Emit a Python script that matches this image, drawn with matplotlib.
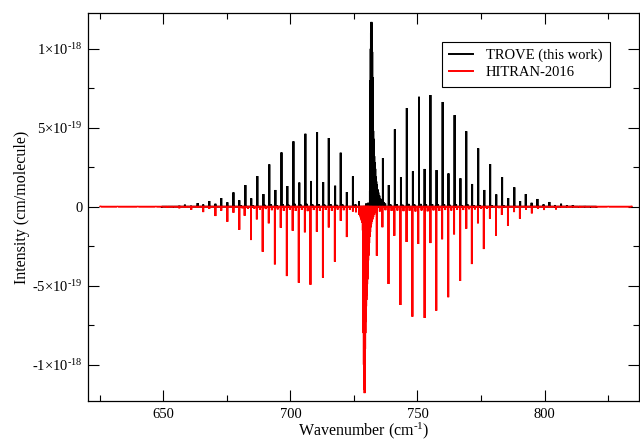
import numpy as np
import matplotlib
matplotlib.use("Agg")
import matplotlib.pyplot as plt
from matplotlib.ticker import FixedLocator, MultipleLocator

plt.rcParams['font.family'] = ['Liberation Serif', 'DejaVu Serif']
plt.rcParams['mathtext.fontset'] = 'custom'
plt.rcParams['mathtext.rm'] = 'Liberation Serif'
plt.rcParams['mathtext.it'] = 'Liberation Serif:italic'
plt.rcParams['path.simplify'] = False

SCALE = 1e-19  # intensities below are in units of 1e-19 cm/molecule
HY = '\u2010'  # plain hyphen for the exponents

# TROVE (this work): P, Q and R branches, plus weak hot-band lines
trove_p_nu = [649.4, 651.7, 653.9, 656.3, 658.5, 660.9, 663.5, 665.7, 668.1, 670.5,
              672.8, 675.2, 677.6, 679.9, 682.3, 684.6, 687.0, 689.4, 691.7, 694.1,
              696.5, 698.8, 701.2, 703.5, 705.9, 708.1, 710.5, 712.9, 715.1, 717.6,
              719.8, 722.2, 724.6, 727.0]
trove_p_int = [0.02, 0.03, 0.04, 0.06, 0.13, 0.06, 0.23, 0.14, 0.36, 0.19,
               0.55, 0.28, 0.91, 0.41, 1.37, 0.53, 1.94, 0.80, 2.68, 1.06,
               3.44, 1.31, 4.14, 1.53, 4.62, 1.63, 4.73, 1.56, 4.35, 1.33,
               3.42, 0.93, 1.92, 0.36]
trove_q_nu = [731.3, 731.4, 731.5, 731.6, 731.7, 731.8, 731.9, 732.0, 732.1, 732.2,
              732.3, 732.4, 732.5, 732.6, 732.7, 732.8, 732.9, 733.0, 733.2, 733.4,
              733.6, 733.8, 734.0, 734.3, 734.6, 735.0, 735.5, 736.0, 736.8, 737.3]
trove_q_int = [1.0, 5.0, 8.0, 10.0, 11.0, 11.5, 11.7, 11.6, 11.2, 9.8,
               8.2, 6.6, 5.5, 4.8, 4.3, 3.9, 3.5, 3.2, 2.8, 2.4,
               1.9, 1.6, 1.4, 1.1, 0.9, 0.7, 0.5, 0.4, 0.3, 0.2]
trove_r_nu = [736.4, 738.7, 741.1, 743.5, 745.8, 748.2, 750.6, 752.8, 755.1, 757.5,
              759.9, 762.2, 764.6, 766.9, 769.2, 771.5, 773.9, 776.3, 778.6, 781.0,
              783.3, 785.7, 788.1, 790.4, 792.6, 794.9, 797.2, 799.6, 801.9, 804.1,
              806.5, 808.8, 811.1, 813.5, 815.8, 818.1, 820.5]
trove_r_int = [3.08, 1.37, 4.90, 1.88, 6.25, 2.24, 6.96, 2.39, 7.07, 2.32,
               6.63, 2.11, 5.80, 1.80, 4.78, 1.44, 3.70, 1.06, 2.70, 0.78,
               1.88, 0.55, 1.23, 0.36, 0.80, 0.25, 0.49, 0.15, 0.30, 0.11,
               0.19, 0.08, 0.10, 0.04, 0.05, 0.02, 0.02]
trove_hot_nu = [680.5, 685.2, 689.9, 692.4, 694.6, 697.1, 699.3, 701.8, 704.1, 706.5,
                708.7, 711.1, 713.4, 715.8, 718.2, 720.5, 725.6, 729.8, 730.6, 739.4,
                741.8, 744.1, 746.5, 748.8, 751.2, 753.4, 755.8, 758.1, 760.5, 762.8,
                765.2, 767.5, 769.9, 772.2, 774.5, 779.3, 784.0]
trove_hot_int = [0.08, 0.10, 0.12, 0.14, 0.10, 0.16, 0.12, 0.18, 0.13, 0.18,
                 0.14, 0.17, 0.13, 0.16, 0.12, 0.14, 0.15, 0.20, 0.25, 0.14,
                 0.16, 0.13, 0.18, 0.14, 0.18, 0.15, 0.17, 0.14, 0.16, 0.12,
                 0.15, 0.11, 0.13, 0.10, 0.11, 0.09, 0.07]

# HITRAN-2016, plotted as negative intensities
hitran_p_nu = [625.2, 632.0, 640.0, 647.1, 649.4, 651.6, 653.9, 656.3, 658.7, 661.0,
               663.4, 665.7, 668.1, 670.5, 672.8, 675.2, 677.6, 679.9, 682.0, 684.5,
               686.8, 689.1, 691.5, 693.9, 696.2, 698.6, 700.9, 703.3, 705.7, 707.9,
               710.4, 712.8, 715.1, 717.5, 719.8, 722.2, 724.6, 727.0]
hitran_p_int = [0.002, 0.003, 0.005, 0.01, 0.02, 0.04, 0.03, 0.10, 0.05, 0.19,
                0.07, 0.34, 0.13, 0.59, 0.25, 0.95, 0.38, 1.46, 0.57, 2.11,
                0.80, 2.85, 1.05, 3.65, 1.33, 4.39, 1.52, 4.81, 1.62, 4.94,
                1.58, 4.49, 1.31, 3.48, 0.89, 1.92, 0.30, 0.50]
hitran_q_nu = [727.5, 727.7, 727.9, 728.1, 728.3, 728.5, 728.6, 728.7, 728.8, 728.9,
               729.0, 729.1, 729.2, 729.3, 729.4, 729.5, 729.6, 729.7, 729.8, 729.9,
               730.0, 730.1, 730.2, 730.3, 730.4, 730.5, 730.6, 730.7, 730.8, 730.9,
               731.0, 731.2, 731.4, 731.6, 731.8, 732.0, 732.3, 732.6, 733.0, 733.5]
hitran_q_int = [0.6, 0.7, 0.8, 0.9, 1.0, 1.5, 3.0, 5.5, 8.0, 10.0,
                11.2, 11.6, 11.8, 11.0, 9.0, 8.0, 7.3, 6.8, 6.3, 5.9,
                5.6, 5.2, 4.9, 4.6, 4.2, 3.8, 3.4, 3.1, 2.8, 2.6,
                2.3, 1.9, 1.6, 1.3, 1.1, 0.95, 0.8, 0.65, 0.5, 0.35]
hitran_r_nu = [734.0, 736.2, 738.6, 740.9, 743.3, 745.7, 748.0, 750.3, 752.8, 755.1,
               757.4, 759.7, 762.1, 764.4, 766.8, 769.2, 771.4, 773.8, 776.1, 778.5,
               780.9, 783.2, 785.6, 788.0, 790.3, 792.7, 795.0, 797.4, 799.8, 802.1,
               804.5, 806.9, 809.2, 811.6, 813.9, 818.0, 825.0, 834.3]
hitran_r_int = [3.10, 1.30, 4.89, 1.84, 6.22, 2.23, 6.96, 2.36, 7.04, 2.30,
                6.58, 2.06, 5.73, 1.75, 4.70, 1.39, 3.63, 1.05, 2.68, 0.75,
                1.84, 0.52, 1.22, 0.34, 0.75, 0.20, 0.42, 0.12, 0.21, 0.07,
                0.17, 0.05, 0.08, 0.03, 0.04, 0.01, 0.005, 0.002]
hitran_hot_nu = [681.1, 683.3, 685.8, 688.0, 690.3, 692.7, 695.0, 697.4, 699.8, 702.1,
                 704.5, 706.8, 709.2, 711.6, 713.9, 716.3, 718.6, 721.0, 723.4, 725.8,
                 735.2, 737.4, 739.8, 742.1, 744.5, 746.9, 749.2, 751.6, 754.0, 756.3,
                 758.6, 760.9, 763.3, 765.6, 768.0, 770.3, 772.6, 775.0, 777.3, 782.1]
hitran_hot_int = [0.10, 0.14, 0.12, 0.18, 0.15, 0.22, 0.17, 0.25, 0.19, 0.27,
                  0.20, 0.28, 0.21, 0.27, 0.20, 0.25, 0.18, 0.22, 0.20, 0.35,
                  0.30, 0.22, 0.26, 0.24, 0.28, 0.25, 0.30, 0.24, 0.29, 0.23,
                  0.27, 0.21, 0.24, 0.19, 0.21, 0.16, 0.17, 0.13, 0.12, 0.09]


def sticks(nu_lists, int_lists, sign=1.0):
    # impulse trace: each line goes 0 -> I -> 0 at its wavenumber
    nu = np.concatenate([np.asarray(a, float) for a in nu_lists])
    inten = np.concatenate([np.asarray(a, float) for a in int_lists]) * SCALE * sign
    order = np.argsort(nu)
    nu, inten = nu[order], inten[order]
    x = np.repeat(nu, 3)
    y = np.zeros_like(x)
    y[1::3] = inten
    return x, y


fig = plt.figure(figsize=(6.4, 4.4), dpi=100)
ax = fig.add_axes([0.138, 0.0886, 0.861, 0.881])

tx, ty = sticks([trove_p_nu, trove_q_nu, trove_r_nu, trove_hot_nu],
                [trove_p_int, trove_q_int, trove_r_int, trove_hot_int])
hx, hy = sticks([hitran_p_nu, hitran_q_nu, hitran_r_nu, hitran_hot_nu],
                [hitran_p_int, hitran_q_int, hitran_r_int, hitran_hot_int], -1.0)

ax.plot(tx, ty, color='black', lw=1.4, solid_joinstyle='bevel', snap=False,
        label='TROVE (this work)', zorder=2)
ax.plot(hx, hy, color='red', lw=1.4, solid_joinstyle='bevel', snap=False,
        label='HITRAN-2016', zorder=3)

ax.set_xlim(620.5, 837.3)
ax.set_ylim(-1.23e-18, 1.224e-18)

ax.xaxis.set_major_locator(MultipleLocator(50))
ax.xaxis.set_minor_locator(MultipleLocator(25))
yt = [-1e-18, -5e-19, 0, 5e-19, 1e-18]
ax.yaxis.set_major_locator(FixedLocator(yt))
ax.yaxis.set_minor_locator(FixedLocator([-7.5e-19, -2.5e-19, 2.5e-19, 7.5e-19]))
ax.set_yticklabels(['-1$\\times$10$^{%s18}$' % HY, '-5$\\times$10$^{%s19}$' % HY, '0',
                    '5$\\times$10$^{%s19}$' % HY, '1$\\times$10$^{%s18}$' % HY])

ax.tick_params(which='both', direction='in', top=True, right=True,
               width=0.8, labelsize=10.5, color='black')
ax.tick_params(which='major', length=8)
ax.tick_params(which='minor', length=4)
ax.tick_params(axis='x', pad=5)
ax.tick_params(axis='y', pad=4)
for sp in ax.spines.values():
    sp.set_linewidth(0.9)

ax.set_xlabel('Wavenumber (cm$^{%s1}$)' % HY, fontsize=11.5, labelpad=0)
ax.set_ylabel('Intensity (cm/molecule)', fontsize=11.5, labelpad=2)

leg = ax.legend(loc='upper right', bbox_to_anchor=(0.946, 0.927), borderaxespad=0,
                fontsize=10.5, fancybox=False, framealpha=1, edgecolor='black',
                handlelength=1.6, handletextpad=0.9, borderpad=0.5,
                labelspacing=0.25)
leg.get_frame().set_linewidth(0.8)

fig.savefig('out.png', dpi=100)
